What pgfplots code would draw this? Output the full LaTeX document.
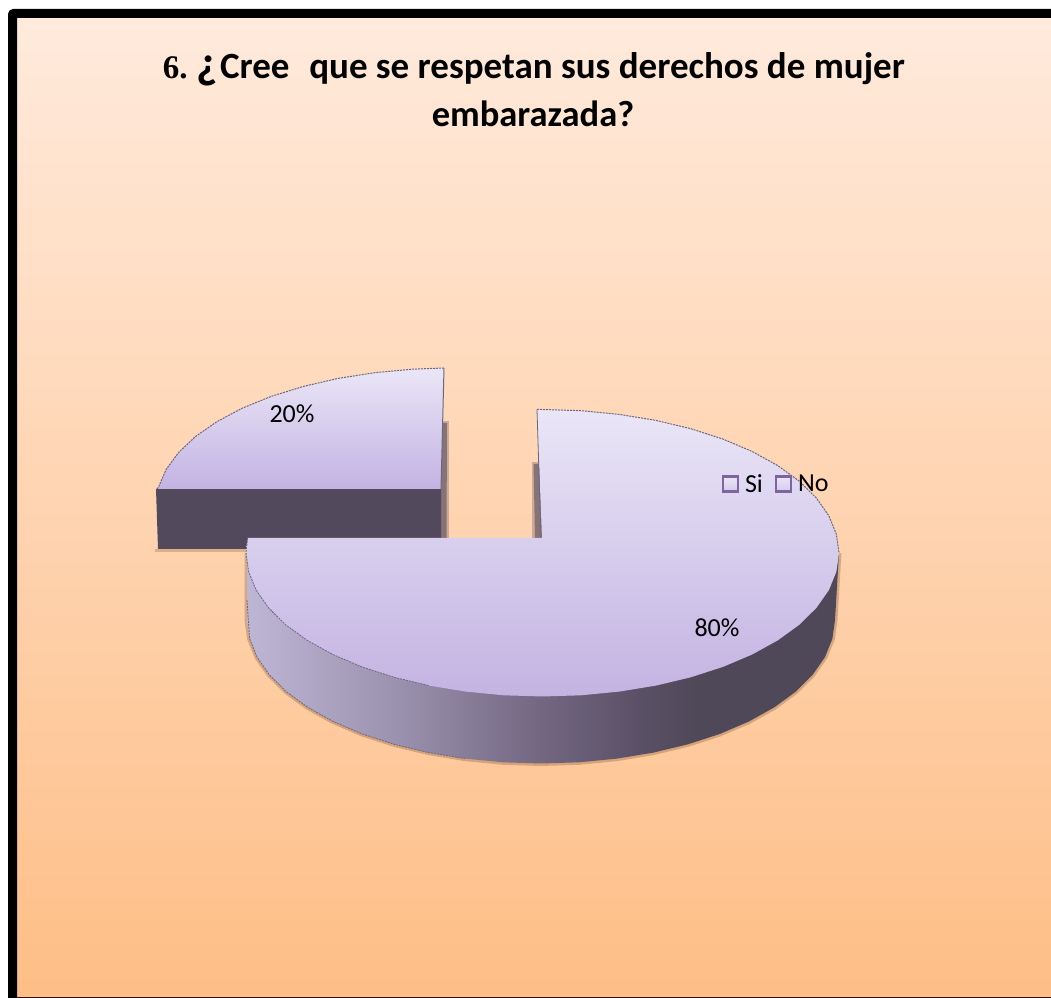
\documentclass[border=0pt]{standalone}
\usepackage{pgfplots}
\pgfplotsset{compat=1.18}
\usepackage{fontspec}
\setmainfont{Carlito}
\newfontfamily\timesf{Liberation Serif}
\definecolor{bgtop}{HTML}{FFEADC}
\definecolor{bgbot}{HTML}{FEBE86}
\definecolor{surftop}{HTML}{EAE6F7}
\definecolor{surfbot}{HTML}{C3B3E2}
\definecolor{walla}{HTML}{BDB6D4}
\definecolor{wallb}{HTML}{9A91AE}
\definecolor{wallc}{HTML}{736782}
\definecolor{walld}{HTML}{5A5066}
\definecolor{walle}{HTML}{4E4858}
\definecolor{smallwall}{HTML}{524A5C}
\definecolor{edge}{HTML}{6B667E}
\definecolor{shadow}{HTML}{6A5C68}
\definecolor{halo}{HTML}{7A4A28}
\definecolor{legbox}{HTML}{8064A2}
\pgfdeclarehorizontalshading{wallshade}{100bp}{color(0bp)=(walla); color(25bp)=(walla); color(37.9bp)=(wallb); color(49.7bp)=(wallc); color(58.2bp)=(walld); color(63.3bp)=(walle); color(100bp)=(walle)}
\pgfplotstableread{
x y
537 409.5
542.5 409.5
581.2 410.7
619.2 414.4
656 420.4
690.8 428.7
723 439.1
752.2 451.5
777.7 465.6
799.3 481.2
816.4 498.1
828.9 515.9
836.4 534.3
839 553
}\bigback
\pgfplotstableread{
x y
537 409.5
542.5 409.5
581.2 410.7
619.2 414.4
656 420.4
690.8 428.7
723 439.1
752.2 451.5
777.7 465.6
799.3 481.2
816.4 498.1
828.9 515.9
836.4 534.3
839 553
836.4 571.7
828.9 590.1
816.4 607.9
799.3 624.8
777.7 640.4
752.2 654.5
723 666.9
690.8 677.3
656 685.6
619.2 691.6
581.2 695.3
542.5 696.5
503.8 695.3
465.8 691.6
429 685.6
394.2 677.3
362 666.9
332.8 654.5
307.3 640.4
285.7 624.8
268.6 607.9
256.1 590.1
248.6 571.7
246 553
247.6 538
542 538
}\bigtop
\pgfplotstableread{
x y
247 553
247 620
249.6 638.7
257 657.1
269.4 674.9
286.4 691.8
307.8 707.4
333.1 721.5
362 733.9
394 744.3
428.5 752.6
464.9 758.6
502.6 762.3
541 763.5
579.4 762.3
617.1 758.6
653.5 752.6
688 744.3
720 733.9
748.9 721.5
774.2 707.4
795.6 691.8
812.6 674.9
825 657.1
832.4 638.7
835 620
839 553
}\bigwall
\pgfplotstableread{
x y
157 489
158.5 487.1
166.1 469.5
178.5 452.6
195.5 436.5
217 421.6
242.4 408.1
271.4 396.3
303.5 386.4
338.1 378.4
374.7 372.7
412.5 369.2
444 368
441 489
}\smalltop
\pgfplotstableread{
x y
157 489
158.5 487.1
166.1 469.5
178.5 452.6
195.5 436.5
217 421.6
242.4 408.1
271.4 396.3
303.5 386.4
338.1 378.4
374.7 372.7
412.5 369.2
444 368
}\smallarc
\begin{document}
\begin{tikzpicture}
\begin{axis}[
  scale only axis, width=1051bp, height=998bp,
  xmin=0, xmax=1051, ymin=0, ymax=998, y dir=reverse,
  axis lines=none, clip=true,
  p/.style={forget plot, draw=none},
  legend style={at={(0.6868,0.515)}, anchor=west, draw=none, fill=none, inner sep=0pt, outer sep=0pt,
    legend columns=2, font=\fontsize{26bp}{28bp}\selectfont,
    nodes={inner sep=0pt},
    /tikz/every even column/.style={column sep=12bp}},
  legend cell align=left,
]
% background and frame
\addplot[p, fill=white] coordinates {(0,0)(1051,0)(1051,998)(0,998)};
\addplot[p, top color=bgtop, bottom color=bgbot] coordinates {(17,18)(1051,18)(1051,998)(17,998)};
\addplot[p, fill=black] coordinates {(8,998)(8,14)(9.5,10.5)(13,9)(1051,9)(1051,18)(17,18)(17,998)};
\addplot[p, fill=black!85!orange] coordinates {(17,997)(1051,997)(1051,998)(17,998)};
% shadows on the background
\addplot[p, fill=shadow, opacity=.35] coordinates {(440,421)(449,421)(449,538)(440,538)};
\addplot[p, fill=shadow, opacity=.7] coordinates {(440,423)(447,423)(446.5,538)(440,538)};
\addplot[p, fill=shadow, opacity=.35] coordinates {(532,462)(542,462)(542,538)(532,538)};
\addplot[p, fill=shadow, opacity=.7] coordinates {(533.5,464)(542,464)(542,538)(535,538)};
% small slice (20%)
\addplot[p, fill=halo, opacity=.25] coordinates {(155,549)(155,552)(300,552)(300,549)};
\addplot[p, fill=smallwall] coordinates {(156,489)(441,489)(441,549)(158,549)};
\addplot[p, top color=surftop, bottom color=surfbot] table[x=x,y=y] {\smalltop};
\addplot[forget plot, draw=edge, line width=1pt, dash pattern=on 2pt off 1pt] table[x=x,y=y] {\smallarc};
\addplot[forget plot, draw=edge, line width=1pt] coordinates {(444,368)(441,489)};
% big slice (80%)
\addplot[forget plot, draw=halo, opacity=.3, line width=5pt, fill=none] table[x=x,y=y] {\bigwall};
\addplot[forget plot, draw=none, shading=wallshade] table[x=x,y=y] {\bigwall};
\addplot[forget plot, draw=edge, line width=.8pt, dash pattern=on 2pt off 1pt] coordinates {(247,600)(249.6,638.7)(257,657.1)(269.4,674.9)(286.4,691.8)(307.8,707.4)(333.1,721.5)(362,733.9)(394,744.3)(428.5,752.6)(464.9,758.6)};
\addplot[p, top color=surftop, bottom color=surfbot] table[x=x,y=y] {\bigtop};
\addplot[forget plot, draw=edge, line width=1pt, dash pattern=on 2pt off 1pt] table[x=x,y=y] {\bigback};
\addplot[forget plot, draw=edge, line width=.8pt, dash pattern=on 2pt off 1pt] coordinates {(247.6,538)(246,553)(248.6,571.7)(256.1,590.1)(268.6,607.9)(285.7,624.8)(307.3,640.4)(332.8,654.5)(362,666.9)(394.2,677.3)(429,685.6)};
\addplot[forget plot, draw=edge, line width=.8pt] coordinates {(537,409.5)(541,538)};
% legend
\addlegendimage{legend image code/.code={\draw[draw=legbox, line width=2.2bp, top color=surftop, bottom color=surfbot!70!white] (0bp,-7.5bp) rectangle (15bp,7.5bp);}}
\addlegendentry{\hspace{6bp}Si}
\addlegendimage{legend image code/.code={\draw[draw=legbox, line width=2.2bp, top color=surftop, bottom color=surfbot!70!white] (0bp,-7.5bp) rectangle (15bp,7.5bp);}}
\addlegendentry{\hspace{6bp}No}
% labels
\node[font=\fontsize{26bp}{28bp}\selectfont] at (axis cs:292,414) {20\%};
\node[font=\fontsize{26bp}{28bp}\selectfont] at (axis cs:717,628) {80\%};
% title
\node[anchor=base, inner sep=0pt, font=\fontsize{37bp}{40bp}\selectfont\bfseries] at (axis cs:534,79)
  {{\timesf\fontsize{33bp}{30bp}\selectfont 6.}\hspace{9bp}{\fontsize{46bp}{40bp}\selectfont ¿}\hspace{2bp}Cree\ \ \hspace{3bp}que se respetan sus derechos de mujer};
\node[anchor=base, inner sep=0pt, font=\fontsize{36.5bp}{40bp}\selectfont\bfseries] at (axis cs:533,127) {embarazada?};
\end{axis}
\end{tikzpicture}
\end{document}
